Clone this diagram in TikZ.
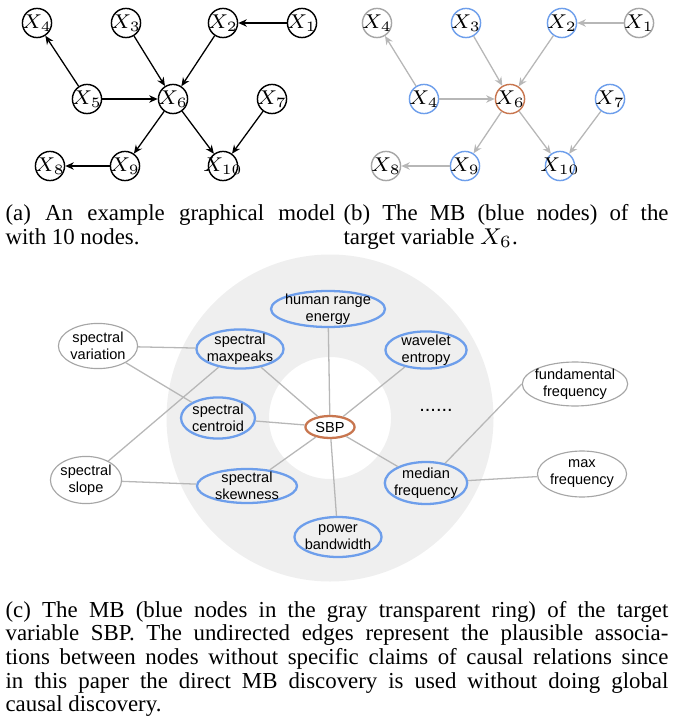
\documentclass[tikz,border=0pt]{standalone}
\usepackage{fontspec}
\setmainfont{Liberation Serif}
\setsansfont{Liberation Sans}
\usetikzlibrary{arrows.meta, shapes.geometric}
\usepackage{xcolor}
\definecolor{mbblue}{HTML}{6D9EEB}
\definecolor{tgtorange}{HTML}{C8764F}
\definecolor{nbgray}{HTML}{A6A6A6}
\definecolor{edgegray}{HTML}{B7B7B7}
\definecolor{ringgray}{HTML}{EFEFEF}
\def\varsize{10.2pt}
\newcommand{\xv}[1]{\makebox[0pt]{$X_{#1}$}}

\begin{document}
\begin{tikzpicture}[x=0.35pt, y=-0.35pt]
    \tikzstyle{var}=[circle, draw=black, line width=0.5pt, minimum size=\varsize, inner sep=0pt, font=\fontsize{6.8}{8}\selectfont]
    \tikzstyle{dep edge}=[line width=0.45pt, -{Stealth[length=3pt, width=2.6pt]}]
    \tikzstyle{feat}=[ellipse, draw=nbgray, line width=0.4pt, inner sep=-1pt, align=center, font=\sffamily\fontsize{5.1}{6}\selectfont]
    \tikzstyle{mb feat}=[feat, draw=mbblue, line width=0.8pt]
    \tikzstyle{target}=[feat, draw=tgtorange, line width=0.8pt, fill=white]
    \tikzstyle{assoc}=[draw=edgegray, line width=0.45pt]
    \tikzstyle{subcap}=[align=justify, inner sep=0pt, anchor=base west, font=\fontsize{8}{8.3}\selectfont]

    \useasboundingbox (0,0) rectangle (673,728);

    % (a) the graphical model
    \foreach \n/\x/\y in {1/302/23, 2/223/23, 3/126/23, 4/37/23, 5/87/99,
        6/173/99, 7/272/99, 8/50/166, 9/125/166, 10/223/166}
        \node[var] (a-\n) at (\x,\y) {\xv{\n}};

    % (b) same graph, coloured by MB membership
    \foreach \n/\l/\x/\y/\c in {1/1/639/23/nbgray, 2/2/562/23/mbblue,
        3/3/466/23/mbblue, 4/4/377/23/nbgray, 5/4/424/99/mbblue,
        6/6/510/99/tgtorange, 7/7/610/99/mbblue, 8/8/386/166/nbgray,
        9/9/465/166/mbblue, 10/10/560/166/mbblue}
        \node[var, draw=\c] (b-\n) at (\x,\y) {\xv{\l}};

    % Directed edges, drawn in both graphs
    \foreach \s/\t in {1/2, 3/6, 2/6, 5/4, 5/6, 6/9, 6/10, 7/10, 9/8} {
        \draw[dep edge] (a-\s) -- (a-\t);
        \draw[dep edge, draw=edgegray] (b-\s) -- (b-\t);
    }

    \node[subcap, text width=115.5pt] (cap-a) at (5,221)
        {(a) An example graphical model\linebreak with 10 nodes.};
    \node[subcap, text width=113.75pt] (cap-b) at (343,221)
        {(b) The MB (blue nodes) of the\linebreak target variable $X_6$.};

    % (c) the ring around SBP
    \fill[ringgray, even odd rule] (330,418) circle (163.5) (330,418) circle (61);

    \node[target, minimum width=17.2pt, minimum height=7.7pt] (sbp) at (330,427) {SBP};
    \node[mb feat, minimum width=39.9pt, minimum height=12.6pt] (hre) at (328,309) {human range\\energy};
    \node[mb feat, minimum width=28.4pt, minimum height=13pt] (wav) at (426,350) {wavelet\\entropy};
    \node[mb feat, minimum width=30.5pt, minimum height=13.7pt] (mxp) at (240,349) {spectral\\maxpeaks};
    \node[mb feat, minimum width=25.9pt, minimum height=14.4pt] (cen) at (218,418) {spectral\\centroid};
    \node[mb feat, minimum width=35pt, minimum height=11.9pt] (skw) at (247,486) {spectral\\skewness};
    \node[mb feat, minimum width=30.5pt, minimum height=14pt] (pow) at (338,537) {power\\bandwidth};
    \node[mb feat, minimum width=28.7pt, minimum height=14.7pt] (med) at (426,483) {median\\frequency};
    \node[feat, minimum width=27.7pt, minimum height=15.8pt] (var) at (98,346) {spectral\\variation};
    \node[feat, minimum width=24.9pt, minimum height=16.5pt] (slo) at (86,480) {spectral\\slope};
    \node[feat, minimum width=36pt, minimum height=15.4pt] (fun) at (575,384) {fundamental\\frequency};
    \node[feat, minimum width=31.2pt, minimum height=16.1pt] (mxf) at (582,474) {max\\frequency};
    \node[font=\sffamily\fontsize{7}{8}\selectfont] (dots) at (436,410) {......};

    % Undirected associations
    \foreach \t in {hre, wav, mxp, cen, skw, pow, med}
        \draw[assoc] (sbp) -- (\t);
    \draw[assoc] (var) -- (mxp);
    \draw[assoc] (var) -- (cen);
    \draw[assoc] (slo) -- (mxp);
    \draw[assoc] (slo) -- (skw);
    \draw[assoc] (med) -- (fun.west);
    \draw[assoc] (med) -- (mxf);

    \node[subcap, text width=232pt] (cap-c) at (5,617)
        {(c) The MB (blue nodes in the gray transparent ring) of the target\linebreak
        variable SBP. The undirected edges represent the plausible associa-\linebreak
        tions between nodes without specific claims of causal relations since\linebreak
        in this paper the direct MB discovery is used without doing global\linebreak
        causal discovery.};
\end{tikzpicture}
\end{document}
